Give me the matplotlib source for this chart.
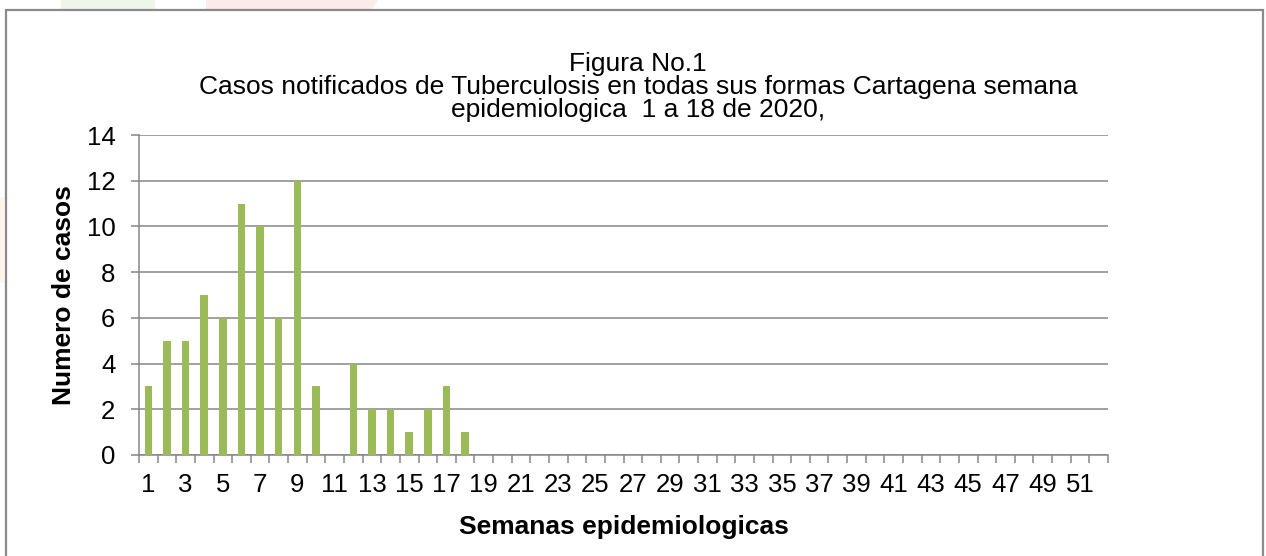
import matplotlib.pyplot as plt
from matplotlib.patches import Rectangle, Polygon

plt.rcParams['font.family'] = ['Liberation Sans', 'DejaVu Sans']

# Datos: casos por semana epidemiologica (1 a 52)
semanas = list(range(1, 53))
casos = [3, 5, 5, 7, 6, 11, 10, 6, 12, 3, 0, 4, 2, 2, 1, 2, 3, 1] + [0] * 34
etiquetas = [str(s) if s % 2 == 1 else '' for s in semanas]
titulo = ['Figura No.1',
          'Casos notificados de Tuberculosis en todas sus formas Cartagena semana',
          'epidemiologica  1 a 18 de 2020,']

W, H = 1266, 556
fig = plt.figure(figsize=(W / 100, H / 100), dpi=100)

# marca de agua tenue y marco
fig.patches.append(Rectangle((61 / W, 1 - 9 / H), 94 / W, 9 / H, transform=fig.transFigure,
                             facecolor='#eef6ec', edgecolor='none', zorder=0))
fig.patches.append(Polygon([(206 / W, 1 - 9 / H), (372 / W, 1 - 9 / H), (378 / W, 1.0), (206 / W, 1.0)],
                           closed=True, transform=fig.transFigure,
                           facecolor='#fcebeb', edgecolor='none', zorder=0))
fig.patches.append(Rectangle((0, 1 - 283 / H), 4 / W, 86 / H, transform=fig.transFigure,
                             facecolor='#fff5ea', edgecolor='none', zorder=0))
fig.patches.append(Rectangle((5.5 / W, -0.1), (1263 - 5.5) / W, 1.1 - 9.5 / H,
                             transform=fig.transFigure, facecolor='none',
                             edgecolor='#8a8a8a', linewidth=1.6, zorder=1))

ax = fig.add_axes([139 / W, 1 - 455 / H, (1108 - 139) / W, (455 - 135) / H])
ax.set_facecolor('none')

x = list(range(len(semanas)))
ax.bar(x, casos, width=0.4, color='#9bbb59', zorder=3)

ax.set_xlim(-0.5, len(semanas) - 0.5)
ax.set_ylim(0, 14)
ax.set_yticks(range(0, 15, 2))
ax.grid(axis='y', color='#868686', linewidth=1.1, zorder=1)

for s in ['top', 'right']:
    ax.spines[s].set_visible(False)
ax.spines['left'].set_color('#868686')
ax.spines['bottom'].set_color('#868686')
ax.spines['left'].set_linewidth(1.1)
ax.spines['bottom'].set_linewidth(1.1)

# etiquetas centradas en la categoria, marcas entre categorias
ax.set_xticks(x)
ax.set_xticklabels(etiquetas)
ax.tick_params(axis='x', which='major', length=0, pad=13, labelsize=18.5)
ax.set_xticks([i - 0.5 for i in range(len(semanas) + 1)], minor=True)
ax.tick_params(axis='x', which='minor', length=6, width=1.1, color='#868686')
ax.tick_params(axis='y', length=6, width=1.1, color='#868686', pad=11, labelsize=18.5)

ax.set_xlabel('Semanas epidemiologicas', fontsize=19, fontweight='bold', labelpad=13)
ax.set_ylabel('Numero de casos', fontsize=19, fontweight='bold', labelpad=8)

for texto, yy in zip(titulo, [64, 87, 110]):
    fig.text(638 / W, 1 - yy / H, texto, ha='center', va='center', fontsize=19)

fig.savefig('out.png', dpi=100)
